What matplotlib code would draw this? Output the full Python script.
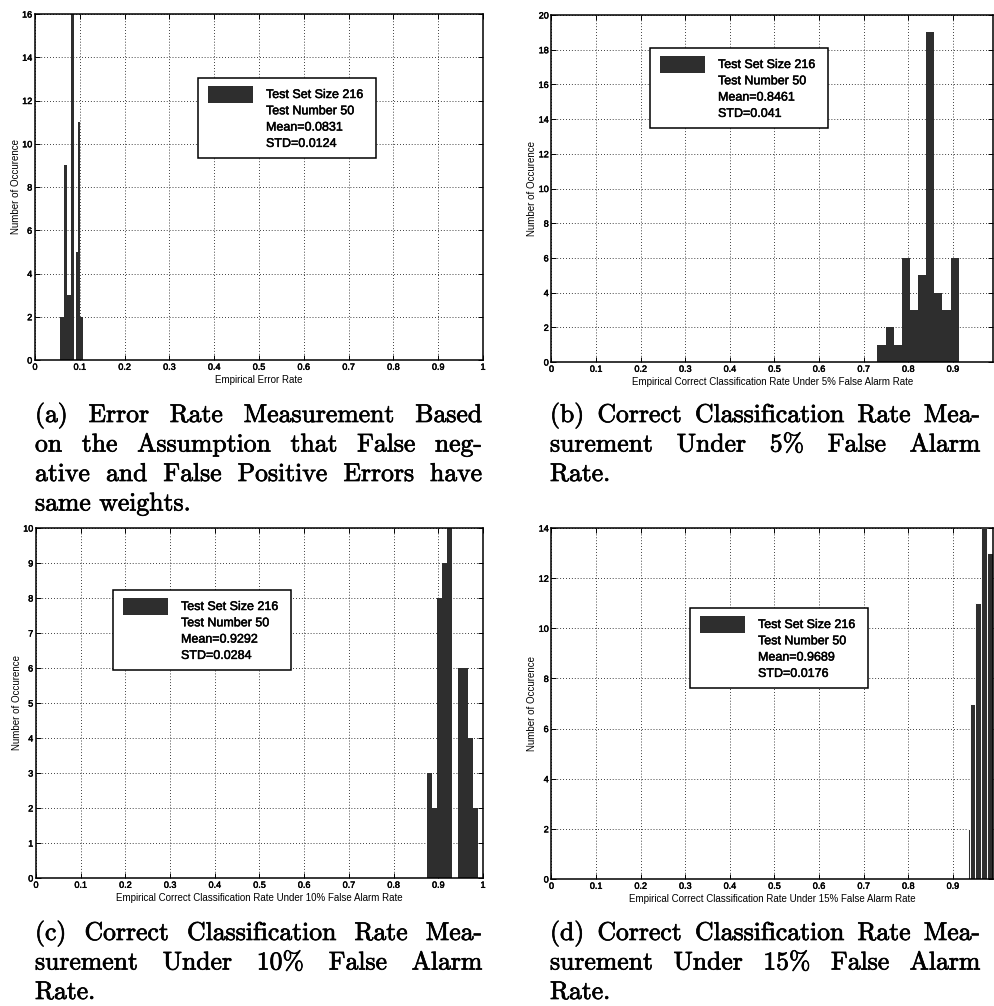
import numpy as np
import matplotlib
matplotlib.use("Agg")
import matplotlib.pyplot as plt
from matplotlib.patches import Rectangle
import matplotlib.patheffects as pe

# ---------------- data ----------------
a_range = [0.0556, 0.1065]
a_counts = [2, 2, 9, 3, 3, 16, 0, 5, 11, 2]
b_range = [0.731, 0.913]
b_counts = [1, 2, 1, 6, 3, 5, 19, 4, 3, 6]
c_range = [0.8754, 0.9881]
c_counts = [3, 2, 8, 9, 10, 0, 6, 6, 4, 2]
d_edges = [0.9332, 0.9395, 0.9507, 0.9637, 0.9774, 0.9906]
d_counts = [2, 7, 11, 14, 13]

legend_a = ["Test Set Size 216", "Test Number 50", "Mean=0.0831", "STD=0.0124"]
legend_b = ["Test Set Size 216", "Test Number 50", "Mean=0.8461", "STD=0.041"]
legend_c = ["Test Set Size 216", "Test Number 50", "Mean=0.9292", "STD=0.0284"]
legend_d = ["Test Set Size 216", "Test Number 50", "Mean=0.9689", "STD=0.0176"]

xlabel_a = "Empirical Error Rate"
xlabel_b = "Empirical Correct Classification Rate Under 5% False Alarm Rate"
xlabel_c = "Empirical Correct Classification Rate Under 10% False Alarm Rate"
xlabel_d = "Empirical Correct Classification Rate Under 15% False Alarm Rate"
ylabel = "Number of Occurence"

x_ticks = [0, 0.1, 0.2, 0.3, 0.4, 0.5, 0.6, 0.7, 0.8, 0.9, 1.0]
x_ticklabels = ["0", "0.1", "0.2", "0.3", "0.4", "0.5", "0.6", "0.7", "0.8", "0.9", "1"]
y_max = [16, 20, 10, 14]
y_step = [2, 2, 1, 2]
x_max = [1.0, 0.99, 1.0, 0.99]

caption_a = ["(a) Error Rate Measurement Based",
             "on the Assumption that False neg-",
             "ative and False Positive Errors have",
             "same weights."]
caption_b = ["(b) Correct Classification Rate Mea-",
             "surement Under 5% False Alarm",
             "Rate."]
caption_c = ["(c) Correct Classification Rate Mea-",
             "surement Under 10% False Alarm",
             "Rate."]
caption_d = ["(d) Correct Classification Rate Mea-",
             "surement Under 15% False Alarm",
             "Rate."]

# ---------------- layout ----------------
W, H = 995, 1006
fig = plt.figure(figsize=(W / 100, H / 100), dpi=100)
SANS = ["Liberation Sans", "DejaVu Sans"]
SERIF = ["cmr10", "DejaVu Serif"]
BAR = "#2e2e2e"
THICK = [pe.withStroke(linewidth=0.35, foreground="black")]


def edges_from_range(r, n):
    return list(np.linspace(r[0], r[1], n + 1))


panels = [
    dict(box=(35, 483, 14, 360), edges=edges_from_range(a_range, len(a_counts)), counts=a_counts,
         leg=legend_a, legbox=(198, 78), xlabel=xlabel_a, idx=0, edge="none"),
    dict(box=(551.5, 993, 15, 362), edges=edges_from_range(b_range, len(b_counts)), counts=b_counts,
         leg=legend_b, legbox=(650, 48), xlabel=xlabel_b, idx=1, edge="none"),
    dict(box=(36, 483, 528, 878), edges=edges_from_range(c_range, len(c_counts)), counts=c_counts,
         leg=legend_c, legbox=(113, 590), xlabel=xlabel_c, idx=2, edge="none"),
    dict(box=(551.5, 993, 528, 879), edges=d_edges, counts=d_counts,
         leg=legend_d, legbox=(690, 608), xlabel=xlabel_d, idx=3, edge="white"),
]

for p in panels:
    L, R, T, B = p["box"]
    i = p["idx"]
    ax = fig.add_axes([L / W, 1 - B / H, (R - L) / W, (B - T) / H])
    ax.set_axisbelow(True)
    e = np.array(p["edges"])
    ax.bar(e[:-1], p["counts"], width=np.diff(e), align="edge", color=BAR,
           edgecolor=p["edge"], linewidth=0.7 if p["edge"] != "none" else 0, zorder=2)
    ax.set_xlim(0, x_max[i])
    ax.set_ylim(0, y_max[i])
    xt = [t for t, l in zip(x_ticks, x_ticklabels) if t <= x_max[i] + 1e-9]
    xl = [l for t, l in zip(x_ticks, x_ticklabels) if t <= x_max[i] + 1e-9]
    ax.set_xticks(xt)
    ax.set_xticklabels(xl)
    yt = list(range(0, y_max[i] + 1, y_step[i]))
    ax.set_yticks(yt)
    ax.set_yticklabels([str(v) for v in yt])
    ax.tick_params(direction="in", length=3.5, width=0.7, top=True, right=True,
                   labelsize=6.5, pad=2, colors="black")
    for lab in ax.get_xticklabels() + ax.get_yticklabels():
        lab.set_family(SANS)
        lab.set_path_effects(THICK)
    ax.grid(True, linestyle=(0, (1, 2.5)), color="black", linewidth=0.6)
    for s in ax.spines.values():
        s.set_linewidth(1.1)
    ax.set_xlabel(p["xlabel"], fontsize=7.0, family=SANS, labelpad=2)
    ax.set_ylabel(ylabel, fontsize=7.0, family=SANS)
    ax.yaxis.set_label_coords(-14 / (R - L), 0.5)

    # legend box (pixel layout converted to axes fraction)
    lx, ly = p["legbox"]
    bw, bh = 178, 80

    def fx(px):
        return (px - L) / (R - L)

    def fy(py):
        return (B - py) / (B - T)

    ax.add_patch(Rectangle((fx(lx), fy(ly + bh)), bw / (R - L), bh / (B - T),
                           transform=ax.transAxes, facecolor="white", edgecolor="black",
                           linewidth=1.1, zorder=5, clip_on=False))
    ax.add_patch(Rectangle((fx(lx + 10), fy(ly + 25)), 45 / (R - L), 17 / (B - T),
                           transform=ax.transAxes, facecolor=BAR, edgecolor="none",
                           zorder=6, clip_on=False))
    for k, line in enumerate(p["leg"]):
        ax.text(fx(lx + 68), fy(ly + 17 + 16.3 * k), line, transform=ax.transAxes,
                fontsize=9.0, family=SANS, va="center", ha="left", zorder=7,
                path_effects=THICK)

# ---------------- captions (justified) ----------------
renderer = fig.canvas.get_renderer()
CAP_FS = 18.5


def caption(lines, left, right, baselines, last_justified=False):
    n = len(lines)
    for li, (line, yb) in enumerate(zip(lines, baselines)):
        words = line.split(" ")
        texts = [fig.text(0, 0, w, fontsize=CAP_FS, family=SERIF, va="baseline", ha="left",
                          path_effects=[pe.withStroke(linewidth=0.5, foreground="black")])
                 for w in words]
        widths = [t.get_window_extent(renderer).width for t in texts]
        justify = (li < n - 1) or last_justified
        if justify and len(words) > 1:
            gap = (right - left - sum(widths)) / (len(words) - 1)
        else:
            gap = CAP_FS * 100 / 72 * 0.333
        x = left
        for t, w in zip(texts, widths):
            t.set_position((x / W, 1 - yb / H))
            x += w + gap


caption(caption_a, 35, 482, [422, 451.5, 481, 510.5])
caption(caption_b, 550, 980, [422, 451.5, 481])
caption(caption_c, 35, 482, [940, 969.5, 999])
caption(caption_d, 550, 980, [940, 969.5, 999])

fig.savefig("out.png", dpi=100)
